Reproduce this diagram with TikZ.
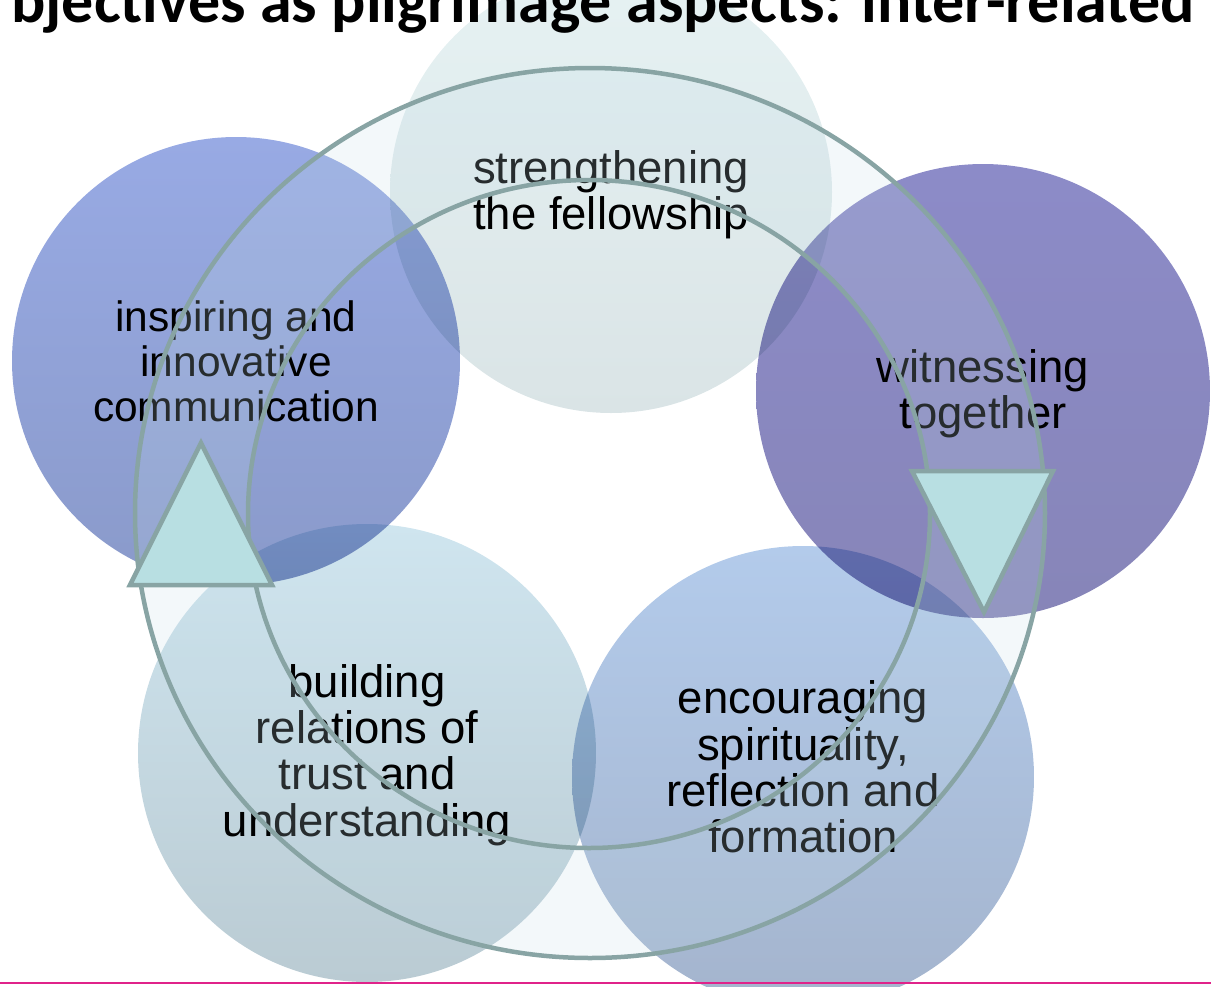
\documentclass[tikz,border=0pt]{standalone}
\usepackage{fontspec}
\setmainfont{Liberation Sans}
\newfontfamily\titlefont{Carlito}
\usetikzlibrary{positioning}
\definecolor{ringline}{HTML}{88A4A4}
\definecolor{ringfill}{HTML}{C3DCE6}
\definecolor{arrowfill}{HTML}{B8DFE2}
\definecolor{rulepink}{HTML}{E0238A}
\definecolor{fellowtop}{HTML}{E6F2F3}
\definecolor{fellowbot}{HTML}{DAE4E6}
\definecolor{commtop}{HTML}{98AAE4}
\definecolor{commbot}{HTML}{8A9ACA}
\definecolor{wittop}{HTML}{8C8BC8}
\definecolor{witbot}{HTML}{8785B8}
\definecolor{trusttop}{HTML}{CFE5EF}
\definecolor{trustbot}{HTML}{BACBD3}
\definecolor{spirtop}{HTML}{B3CBEB}
\definecolor{spirbot}{HTML}{A4B4CD}
\begin{document}
\begin{tikzpicture}[x=1pt,y=-1pt,
    bubble/.style={circle, inner sep=0pt},
    aspect/.style={inner sep=0pt, align=center, text=black,
        font=\fontsize{45.5}{46.3}\selectfont},
    ringedge/.style={draw=ringline, line width=4.5pt},
    turnarrow/.style={draw=ringline, fill=arrowfill, line width=4.5pt}]
    \useasboundingbox (0,0) rectangle (1211,986);
    \clip (0,0) rectangle (1211,986);
    % the five aspects
    \begin{scope}[blend mode=multiply]
        \node[bubble, minimum size=442pt, top color=fellowtop, bottom color=fellowbot] (fellow) at (611,192) {};
        \node[bubble, minimum size=448pt, top color=commtop, bottom color=commbot] (comm) at (236,361) {};
        \node[bubble, minimum size=454pt, top color=wittop, bottom color=witbot] (witness) at (983,391) {};
        \node[bubble, minimum size=458pt, top color=trusttop, bottom color=trustbot] (trust) at (367,753) {};
        \node[bubble, minimum size=462pt, top color=spirtop, bottom color=spirbot] (spirit) at (803,777) {};
    \end{scope}
    \node[aspect] (fellowtext) at ([yshift=-3pt]fellow.center) {strengthening\\the fellowship};
    \node[aspect, font=\fontsize{42.5}{45}\selectfont] (commtext) at (comm.center) {inspiring and\\innovative\\communication};
    \node[aspect] (witnesstext) at ([yshift=-3pt]witness.center) {witnessing\\together};
    \node[aspect] (trusttext) at ([yshift=-2pt]trust.center) {building\\relations of\\trust and\\understanding};
    \node[aspect] (spirittext) at ([yshift=10pt]spirit.center) {encouraging\\spirituality,\\reflection and\\formation};
    % the ring round them
    \coordinate (hub) at (590,513);
    \coordinate (hubin) at (589,514);
    \fill[ringfill, fill opacity=0.2, even odd rule] (hub) ellipse[x radius=455pt, y radius=445pt] (hubin) ellipse[x radius=341pt, y radius=334pt];
    \draw[ringedge] (hub) ellipse[x radius=455pt, y radius=445pt];
    \draw[ringedge] (hubin) ellipse[x radius=341pt, y radius=334pt];
    % arrow heads on the ring
    \filldraw[turnarrow] (201,443) -- (130,585) -- (272,585) -- cycle;
    \filldraw[turnarrow] (912,471) -- (1053,471) -- (984,612) -- cycle;
    \draw[rulepink, line width=2pt] (0,983) -- (1211,983);
    \node[anchor=base east, inner sep=0pt, font={\titlefont\fontsize{64}{70}\selectfont\bfseries}] (title) at (1195,22) {bjectives as pilgrimage aspects: inter-related};
\end{tikzpicture}
\end{document}
